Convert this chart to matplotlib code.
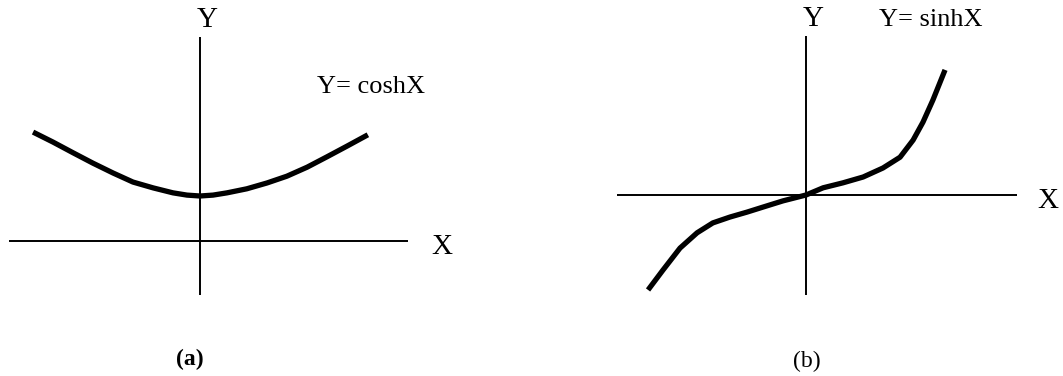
import matplotlib
matplotlib.use('Agg')
import matplotlib.pyplot as plt

plt.rcParams['font.family'] = ['Liberation Serif', 'DejaVu Serif']

# hand-drawn curve samples (one unit ~ 45 px on the page)
cosh_x = [-3.71, -3.27, -2.82, -2.38, -1.93, -1.49, -1.04, -0.60, -0.29, 0.0,
          0.29, 0.60, 1.04, 1.49, 1.93, 2.38, 2.82, 3.27, 3.73]
cosh_y = [2.42, 2.20, 1.96, 1.73, 1.51, 1.31, 1.18, 1.07, 1.02, 1.0,
          1.02, 1.07, 1.16, 1.29, 1.44, 1.64, 1.87, 2.11, 2.36]

sinh_x = [-3.51, -3.18, -2.80, -2.42, -2.07, -1.69, -1.31, -0.96, -0.51, 0.0,
          0.38, 0.82, 1.27, 1.71, 2.09, 2.38, 2.60, 2.82, 3.09]
sinh_y = [-2.11, -1.67, -1.18, -0.84, -0.62, -0.49, -0.38, -0.27, -0.13, 0.0,
          0.16, 0.27, 0.40, 0.60, 0.84, 1.22, 1.62, 2.11, 2.78]

# axis extents for each panel: (x_left, x_right, y_bottom, y_top)
axes_a = (-4.24, 4.62, -1.2, 4.53)
axes_b = (-4.2, 4.69, -2.22, 3.53)

W, H = 1063, 376
fig = plt.figure(figsize=(W/100, H/100), dpi=100)

def panel(rect, xlim, ylim, ext, xs, ys, title, tag, title_pos, tag_w):
    ax = fig.add_axes(rect)
    ax.set_xlim(*xlim)
    ax.set_ylim(*ylim)
    ax.axis('off')
    x0, x1, y0, y1 = ext
    ax.plot([x0, x1], [0, 0], color='black', lw=1.4, solid_capstyle='butt')
    ax.plot([0, 0], [y0, y1], color='black', lw=1.4, solid_capstyle='butt')
    ax.plot(xs, ys, color='black', lw=3.8, solid_joinstyle='round', solid_capstyle='butt')
    ax.text(0.16, y1 + 0.38, 'Y', fontsize=21, ha='center', va='center')
    ax.text(5.38, -0.14, 'X', fontsize=21, ha='center', va='center')
    ax.text(title_pos[0], title_pos[1], title, fontsize=19, ha='center', va='center')
    ax.text(tag[1], tag[2], tag[0], fontsize=17, fontweight=tag_w, ha='center', va='center')
    return ax

panel([0, 0, 460/W, 1], (-200/45, 260/45), (-135/45, 241/45), axes_a,
      cosh_x, cosh_y, 'Y= coshX', ('(a)', -0.22, -2.64), (3.8, 3.42), 'bold')
panel([600/W, 0, 463/W, 1], (-206/45, 257/45), (-181/45, 195/45), axes_b,
      sinh_x, sinh_y, 'Y= sinhX', ('(b)', 0.02, -3.71), (2.78, 3.89), 'normal')

plt.savefig('out.png', dpi=100)
plt.close()
